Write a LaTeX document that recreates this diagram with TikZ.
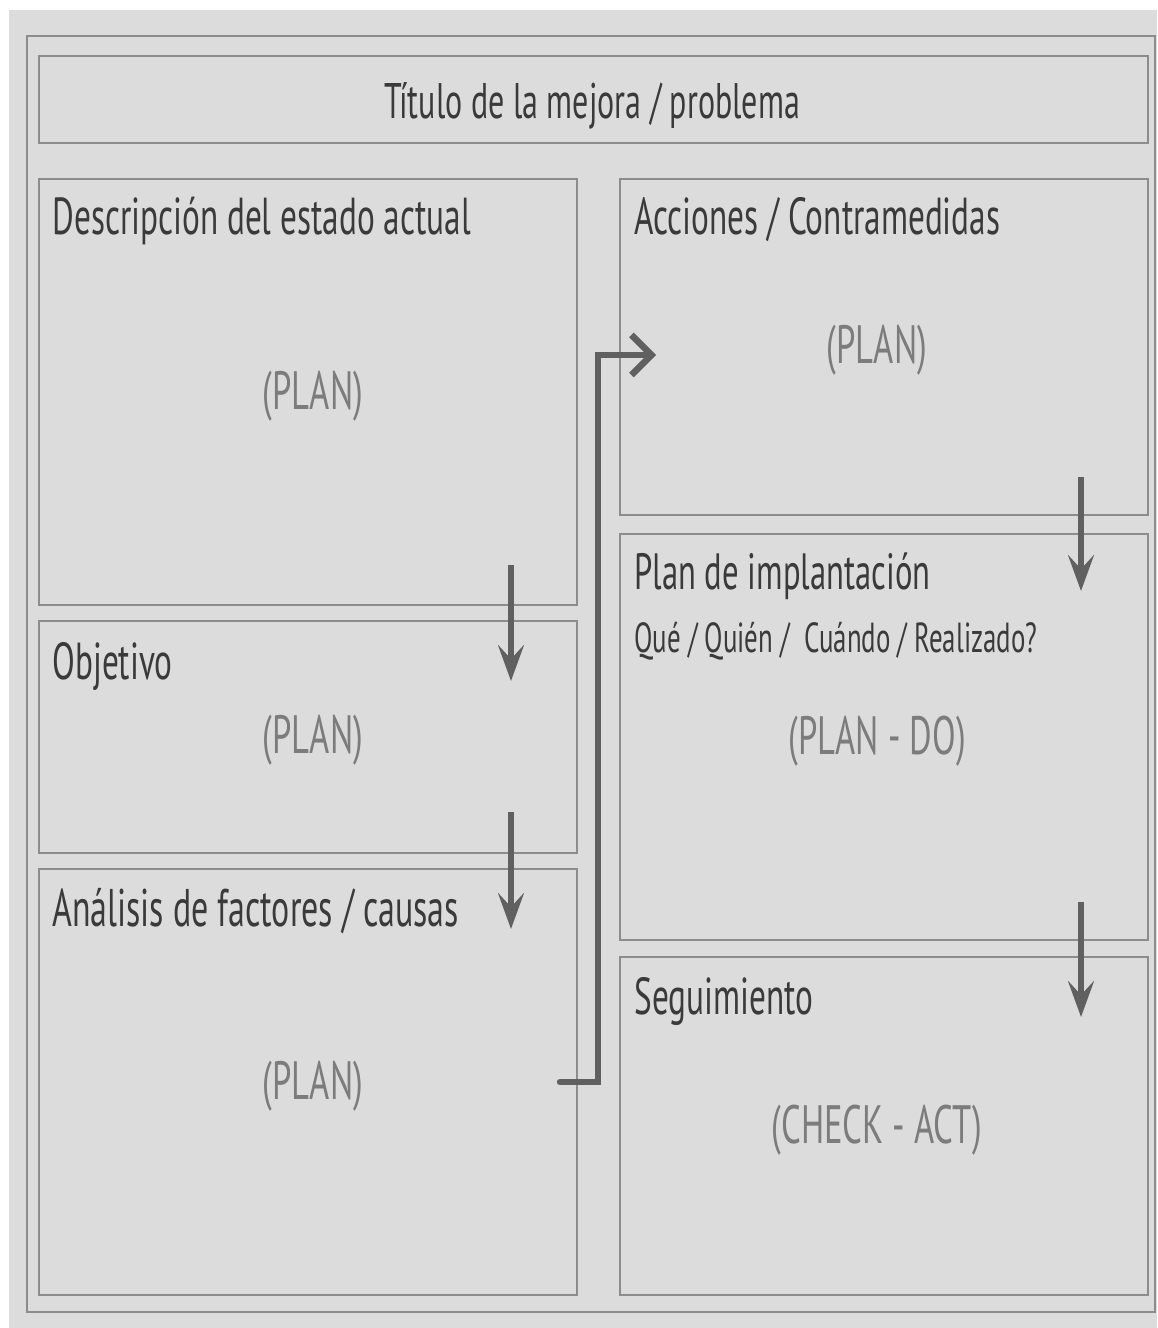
\documentclass[tikz,border=0pt]{standalone}
\usepackage{fontspec}
\setmainfont{PT Sans}[FakeStretch=0.64]
\usetikzlibrary{arrows.meta,fit}
\definecolor{paper}{HTML}{DCDCDC}
\definecolor{frameline}{HTML}{8C8C8C}
\definecolor{arrowgray}{HTML}{606060}
\definecolor{labelink}{HTML}{3A3A3A}
\definecolor{phaseink}{HTML}{7C7C7C}
\tikzset{
  panel/.style={draw=frameline, line width=0.8pt, inner sep=0pt},
  heading/.style={anchor=base west, inner sep=0pt, text=labelink, font=\fontsize{26}{28}\selectfont},
  subheading/.style={anchor=base west, inner sep=0pt, text=labelink, font=\fontsize{21}{24}\selectfont},
  phase/.style={anchor=center, inner sep=0pt, text=phaseink, font=\fontsize{27}{29}\selectfont},
  flow/.style={draw=arrowgray, line width=2.6pt, -{Stealth[length=18pt,width=13pt,inset=7pt]}},
  jump/.style={draw=arrowgray, line width=3.2pt, line cap=round, line join=miter,
    -{Straight Barb[length=10pt,width=20pt,line width=3.2pt]}}
}
\begin{document}
\begin{tikzpicture}[x=0.5pt,y=-0.5pt]
  \useasboundingbox (0,0) rectangle (1157,1328);
  % sheet
  \fill[paper] (9,10) rectangle (1157,1328);
  \node[panel, fit={(27,36) (1155,1312)}] (sheet) {};
  % title strip
  \node[panel, fit={(39,56) (1148,143)}] (title) {};
  % left column
  \node[panel, fit={(39,179) (577,605)}] (desc) {};
  \node[panel, fit={(39,621) (577,853)}] (goal) {};
  \node[panel, fit={(39,869) (577,1295)}] (cause) {};
  % right column
  \node[panel, fit={(620,179) (1148,515)}] (act) {};
  \node[panel, fit={(620,534) (1148,940)}] (plan) {};
  \node[panel, fit={(620,957) (1148,1295)}] (follow) {};

  % texts
  \node[heading, anchor=base, font=\fontsize{25}{28}\selectfont] (titletext) at (592,118) {Título de la mejora / problema};
  \node[heading] (desctext) at (52,234) {Descripción del estado actual};
  \node[heading] (goaltext) at (52,679) {Objetivo};
  \node[heading, font=\fontsize{26.5}{28}\selectfont] (causetext) at (52,926) {Análisis de factores / causas};
  \node[heading] (acttext) at (634,234) {Acciones / Contramedidas};
  \node[heading, font=\fontsize{25.5}{28}\selectfont] (plantext) at (634,589) {Plan de implantación};
  \node[subheading] (plancols) at (634,652) {Qué / Quién /\ \ Cuándo / Realizado?};
  \node[heading] (followtext) at (634,1014) {Seguimiento};

  \node[phase] (p1) at (313,396) {(PLAN)};
  \node[phase] (p2) at (313,740) {(PLAN)};
  \node[phase] (p3) at (313,1086) {(PLAN)};
  \node[phase] (p4) at (877,350) {(PLAN)};
  \node[phase] (p5) at (877,741) {(PLAN - DO)};
  \node[phase] (p6) at (877,1130) {(CHECK - ACT)};

  % flow arrows
  \coordinate (a1s) at (511,565);
  \coordinate (a1e) at (511,681);
  \coordinate (a2s) at (511,812);
  \coordinate (a2e) at (511,929);
  \coordinate (a3s) at (1081,477);
  \coordinate (a3e) at (1081,591);
  \coordinate (a4s) at (1081,902);
  \coordinate (a4e) at (1081,1017);
  \draw[flow] (a1s) -- (a1e);
  \draw[flow] (a2s) -- (a2e);
  \draw[flow] (a3s) -- (a3e);
  \draw[flow] (a4s) -- (a4e);

  \coordinate (js) at (560,1082);
  \coordinate (jk) at (598,1082);
  \coordinate (je) at (656,355);
  \draw[jump] (js) -- (jk) |- (je);
\end{tikzpicture}
\end{document}
